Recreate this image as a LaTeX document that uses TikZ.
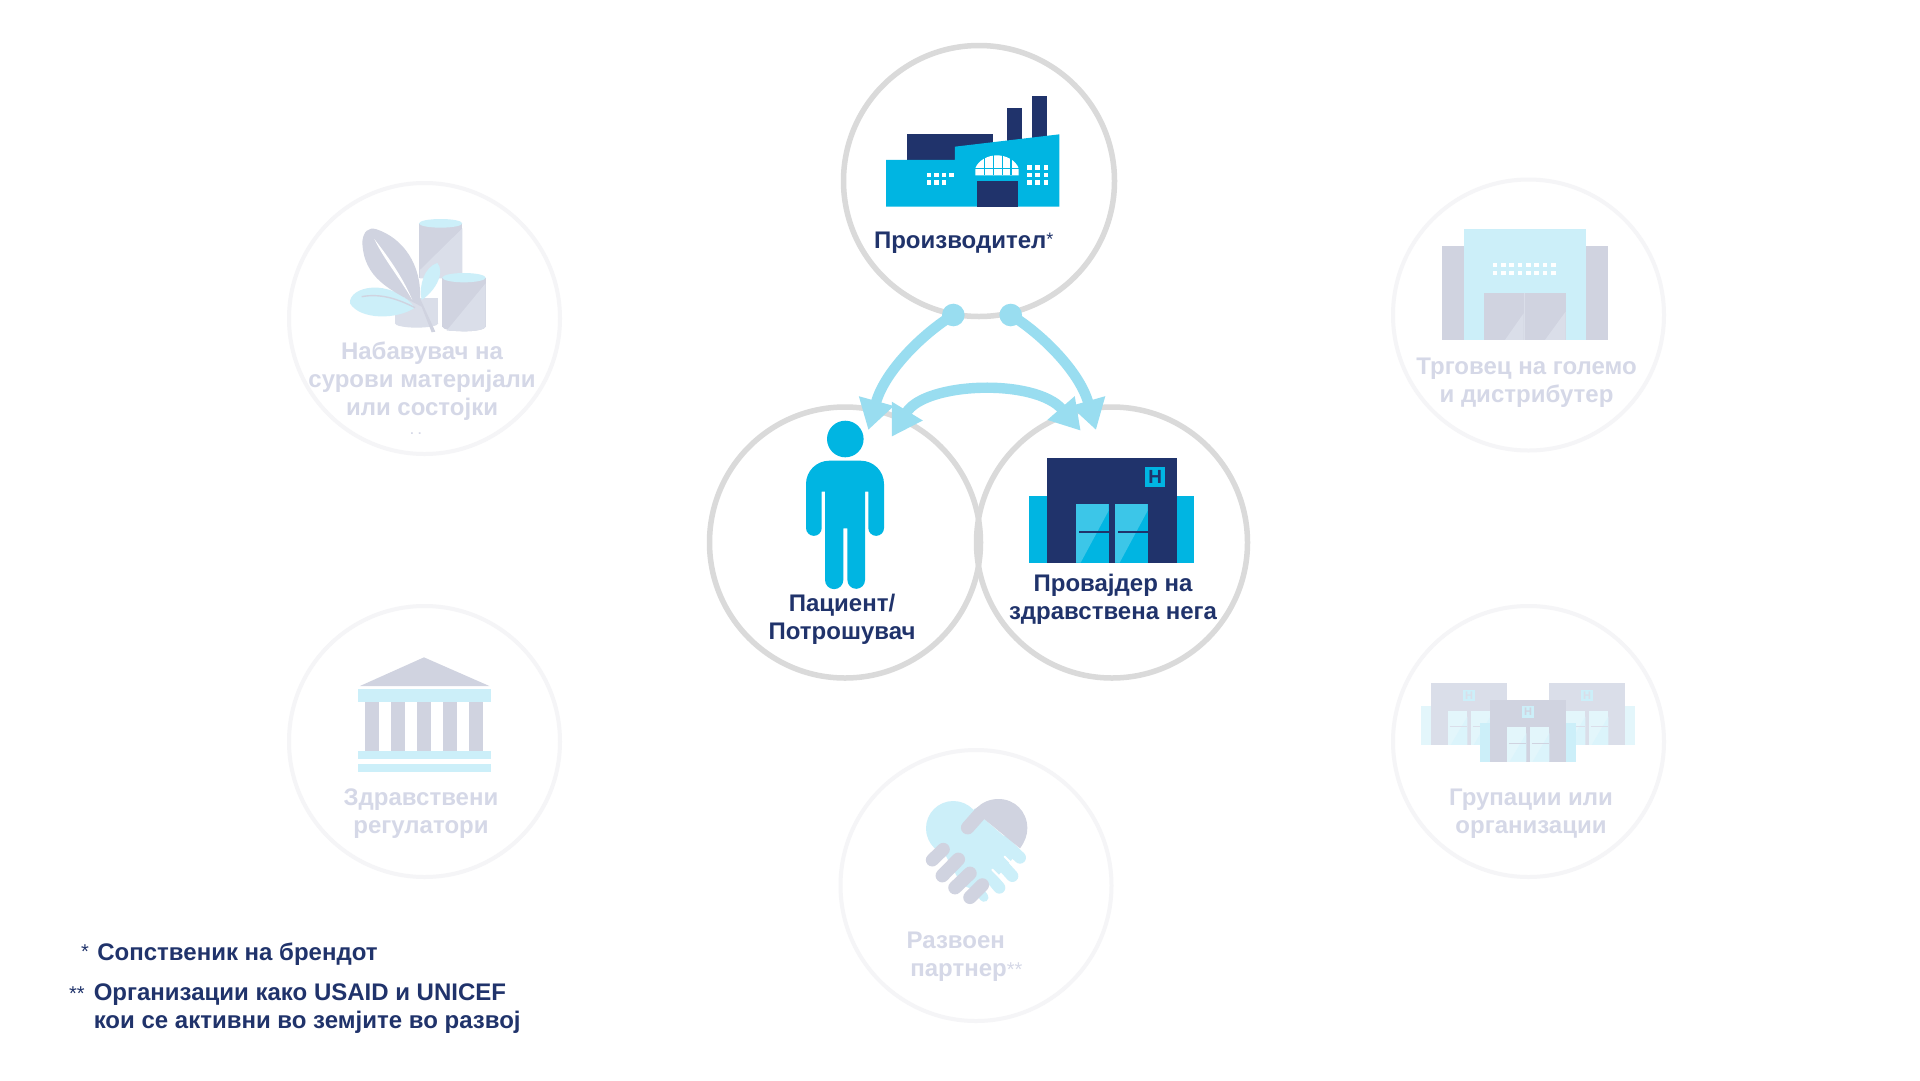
\documentclass[tikz,border=0pt]{standalone}
\usepackage{fontspec}
\setmainfont{Liberation Sans}
\usepackage{tikz}
\usetikzlibrary{arrows.meta,positioning}
\definecolor{navy}{HTML}{20336B}
\definecolor{skyblue}{HTML}{00B5E2}
\definecolor{skydoor}{HTML}{3CC6E8}
\definecolor{flowblue}{HTML}{99DDF0}
\definecolor{ringgrey}{HTML}{DADADA}
\definecolor{ringpale}{HTML}{F5F5F7}
\definecolor{palegrey}{HTML}{D0D3E0}
\definecolor{palegreyb}{HTML}{DADEE9}
\definecolor{palesky}{HTML}{CCEFF9}
\definecolor{palesel}{HTML}{E3F6FB}
\definecolor{paletext}{HTML}{D5D8E7}
\tikzset{
  ring/.style={circle, draw=ringgrey, line width=5.5pt, fill=white, minimum size=271pt, inner sep=0pt},
  ringfade/.style={circle, draw=ringpale, line width=4pt, minimum size=271pt, inner sep=0pt},
  lbl/.style={font=\bfseries\fontsize{24}{28}\selectfont, text=navy, align=center, anchor=base, inner sep=0pt},
  lblfade/.style={lbl, text=paletext},
  stars/.style={font=\mdseries\fontsize{20}{20}\selectfont, text=navy, anchor=base, inner sep=0pt},
  flowdot/.style={circle, fill=flowblue, minimum size=22.6pt, inner sep=0pt},
  flow/.style={line width=10.4pt, draw=flowblue},
  zoomed/.style={x=0.3333pt, y=-0.3333pt},
  signh/.style={font=\bfseries\fontsize{19}{19}\selectfont, inner sep=0pt},
}
\begin{document}
\begin{tikzpicture}[x=1pt, y=-1pt]
  \useasboundingbox (0,0) rectangle (1920,1080);
  \fill[white] (0,0) rectangle (1920,1080);

  % faded rings
  \node[ringfade] (supplier) at (424.5,318.5) {};
  \node[ringfade] (wholesaler) at (1528.5,315) {};
  \node[ringfade] (regulator) at (424.5,741.5) {};
  \node[ringfade] (groups) at (1528.5,741.5) {};
  \node[ringfade] (partner) at (976,885.5) {};

  % main rings
  \node[ring] (maker) at (979,181) {};
  \node[ring] (patient) at (845,542.5) {};
  \node[ring, fill=none] (provider) at (1112,542.5) {};

  % factory
  \begin{scope}[shift={(830,30)}, zoomed]
    \fill[navy] (230,313) rectangle (488,395);
    \fill[navy] (532,235) rectangle (577,340);
    \fill[navy] (605,198) rectangle (650,330);
    \fill[skyblue] (168,530) -- (168,390) -- (375,390) -- (375,350) -- (688,313) -- (688,530) -- cycle;
    \fill[navy] (442,452) rectangle (565,530);
    \fill[white] (436,436) -- (436,415) .. controls (445,390) and (475,376) .. (501,376)
      .. controls (527,376) and (557,390) .. (566,415) -- (566,436) -- cycle;
    \draw[skyblue, line width=1.6pt] (436,415) -- (566,415);
    \foreach \wx in {463,490,517,543}
      \draw[skyblue, line width=1.6pt] (\wx,370) -- (\wx,436);
    \foreach \wx in {296,320,343,365}
      \fill[white] (\wx-6.5,428) rectangle (\wx+6.5,442);
    \foreach \wx in {296,320,343}
      \fill[white] (\wx-6.5,451) rectangle (\wx+6.5,465);
    \foreach \wx in {599,622,648}
      \foreach \wy in {412,435,458}
        \fill[white] (\wx-7,\wy-7) rectangle (\wx+7,\wy+7);
  \end{scope}

  % person
  \node[circle, fill=skyblue, minimum size=36.6pt, inner sep=0pt] (head) at (845.3,439) {};
  \fill[skyblue] (806,484) arc[start angle=180, end angle=270, radius=23.3] -- (860.7,460.7)
    arc[start angle=270, end angle=360, radius=23.3]
    -- (884,528) arc[start angle=0, end angle=180, radius=7.85] -- (868.3,491.7) -- (865,491.7)
    -- (865,580) arc[start angle=0, end angle=180, radius=8.8] -- (847.3,528.3) -- (843.3,528.3)
    -- (843.3,580) arc[start angle=0, end angle=180, radius=9.15] -- (825,491.7) -- (821.7,491.7)
    -- (821.7,528) arc[start angle=0, end angle=180, radius=7.85] -- cycle;

  % hospital
  \begin{scope}[shift={(1000,440)}, zoomed]
    \fill[skyblue] (88,168) rectangle (582,368);
    \fill[navy] (141,53) rectangle (530,368);
    \foreach \dx in {228,345} {
      \fill[skyblue] (\dx,192) rectangle (\dx+98,368);
      \fill[skydoor] (\dx,192) -- (\dx+98,192) -- (\dx+98,212) -- (\dx+14,368) -- (\dx,368) -- cycle;
      \draw[navy, line width=2pt] (\dx+10,276) -- (\dx+98,276);
    }
    \fill[skyblue] (436,82) rectangle (496,141);
    \node[signh, text=navy] (hsign) at (466,112) {H};
  \end{scope}

  % raw materials
  \begin{scope}[shift={(280,175)}, zoomed]
    \fill[palegrey] (417,145) rectangle (547,310);
    \fill[palegreyb] (547,160) -- (547,310) -- (420,310) -- (420,285) -- cycle;
    \fill[palesky] (482,145) ellipse [x radius=65, y radius=13];
    \fill[palegreyb] (345,370) rectangle (475,445);
    \fill[palegreyb] (410,445) ellipse [x radius=65, y radius=13];
    \fill[palegrey] (487,308) rectangle (617,455);
    \fill[palegrey] (552,455) ellipse [x radius=65, y radius=14];
    \fill[palegreyb] (617,325) -- (617,455) arc[start angle=0, end angle=-90, x radius=65, y radius=-14] -- (500,467) -- cycle;
    \fill[palesky] (552,308) ellipse [x radius=65, y radius=14];
    % leaves
    \fill[palesky] (405,398) .. controls (350,435) and (240,435) .. (210,385)
      .. controls (205,335) and (330,305) .. (405,398) -- cycle;
    \fill[palesky] (425,375) .. controls (415,330) and (435,275) .. (472,264)
      .. controls (495,290) and (470,345) .. (425,375) -- cycle;
    \fill[palegrey] (425,395) .. controls (330,345) and (250,310) .. (247,200)
      .. controls (250,170) and (265,155) .. (290,163)
      .. controls (370,190) and (425,270) .. (420,370) -- (466,470) -- (455,472) -- cycle;
    \fill[white] (283,192) .. controls (320,240) and (365,300) .. (397,375)
      .. controls (360,310) and (310,250) .. (283,192) -- cycle;
    \draw[palegrey, line width=1.4pt] (245,365) .. controls (300,355) and (350,370) .. (405,398);
  \end{scope}

  % warehouse
  \begin{scope}[shift={(1390,175)}, zoomed]
    \fill[palegrey] (155,212) rectangle (654,495);
    \fill[palesky] (221,163) rectangle (588,495);
    \fill[palegrey] (282,355) rectangle (527,495);
    \fill[palegreyb] (345,495) -- (401,415) -- (401,495) -- cycle;
    \fill[palegreyb] (465,495) -- (527,410) -- (527,495) -- cycle;
    \draw[palegreyb, line width=0.8pt] (403,355) -- (403,495);
    \foreach \wx in {315,340,...,490}
      \foreach \wy in {270,294}
        \fill[white] (\wx-7,\wy-6.5) rectangle (\wx+7,\wy+6.5);
  \end{scope}

  % regulator building
  \begin{scope}[shift={(280,600)}, zoomed]
    \fill[palegrey] (240,258) -- (432,172) -- (628,258) -- cycle;
    \fill[palesky] (234,268) rectangle (632,307);
    \foreach \cx in {256,334,412,490,568}
      \fill[palegrey] (\cx,307) rectangle (\cx+42,453);
    \fill[palesky] (234,453) rectangle (632,477);
    \fill[palesky] (234,492) rectangle (632,516);
  \end{scope}

  % hospital group
  \begin{scope}[shift={(1390,600)}, zoomed]
    \foreach \bx/\by/\bwall/\bwing in {123/250/palegreyb/palesel, 477/250/palegreyb/palesel, 300/300/palegrey/palesky} {
      \fill[\bwing] (\bx-30,\by+68) rectangle (\bx+259,\by+185);
      \fill[\bwall] (\bx,\by) rectangle (\bx+229,\by+185);
      \foreach \dx in {51,120} {
        \fill[palesel] (\bx+\dx,\by+82) rectangle (\bx+\dx+58,\by+185);
        \fill[palesky!70!white] (\bx+\dx+8,\by+185) -- (\bx+\dx+58,\by+100) -- (\bx+\dx+58,\by+185) -- cycle;
        \draw[\bwall, line width=1pt] (\bx+\dx+5,\by+131) -- (\bx+\dx+58,\by+131);
      }
      \fill[palesky] (\bx+97,\by+19) rectangle (\bx+131,\by+53);
      \node[font=\bfseries\fontsize{11}{11}\selectfont, text=\bwall, inner sep=0pt] (hsign\bx) at (\bx+114,\by+36) {H};
    }
  \end{scope}

  % handshake
  \begin{scope}[shift={(835,745)}, zoomed]
    \fill[palesky] (355,250) circle (82);
    \fill[palesky] (315,300) -- (420,190) -- (445,220) -- (555,315) -- (500,380) -- (445,440) -- (430,440) -- (380,420) -- cycle;
    \draw[palesky, line width=12pt, line cap=round] (505,290) -- (555,338);
    \draw[palesky, line width=12pt, line cap=round] (475,330) -- (532,393);
    \draw[palesky, line width=12pt, line cap=round] (445,370) -- (493,428);
    \draw[palesky, line width=9pt, line cap=round] (420,420) -- (447,457);
    \draw[white, line width=2pt, line cap=round] (509,335) -- (552,377);
    \draw[white, line width=2pt, line cap=round] (472,374) -- (510,412);
    \fill[palegrey] (398,248) -- (445,220) -- (555,310) .. controls (570,290) and (577,270) .. (577,250)
      .. controls (577,200) and (540,162) .. (490,162) .. controls (465,162) and (440,172) .. (425,190) -- cycle;
    \draw[palegrey, line width=13.5pt, line cap=round] (398,248) -- (436,205);
    \draw[palegrey, line width=13pt, line cap=round] (292,345) -- (325,313);
    \draw[palegrey, line width=13.5pt, line cap=round] (322,392) -- (370,343);
    \draw[palegrey, line width=13.5pt, line cap=round] (360,428) -- (405,385);
    \draw[palegrey, line width=13.5pt, line cap=round] (405,457) -- (442,420);
  \end{scope}

  % arrows
  \node[flowdot] (dotl) at (953.3,315) {};
  \node[flowdot] (dotr) at (1010.7,315) {};
  \coordinate (tipa) at (868.3,430);
  \coordinate (tipb) at (1096,430);
  \coordinate (tipc) at (891.7,436.7);
  \coordinate (tipd) at (1080.7,430.7);
  \draw[flow, -{Triangle[length=30pt,width=34pt]}] (dotl.center) .. controls (925,332) and (885,370) .. (tipa);
  \draw[flow, -{Triangle[length=30pt,width=34pt]}] (dotr.center) .. controls (1039,332) and (1079,370) .. (tipb);
  \draw[flow, {Triangle[length=30pt,width=34pt]}-{Triangle[length=30pt,width=34pt]}] (tipc) .. controls (925,382) and (1035,378) .. (tipd);

  % labels
  \node[lbl] (makerlbl) at (963.7,248.3) {Производител{\mdseries\fontsize{18}{18}\selectfont\raisebox{2.7pt}{*}}};
  \node[lbl] (patientlbl) at (842,639.3) {Пациент/\\Потрошувач};
  \node[lbl] (providerlbl) at (1113,619.5) {Провајдер на\\здравствена нега};
  \node[lblfade] (supplierlbl) at (422,415.3) {Набавувач на\\сурови материјали\\или состојки};
  \node[lblfade, font=\bfseries\fontsize{12}{12}\selectfont] (supplierdots) at (416,434) {. .};
  \node[lblfade] (wholesalerlbl) at (1526.5,402.7) {Трговец на големо\\и дистрибутер};
  \node[lblfade] (regulatorlbl) at (421,833.3) {Здравствени\\регулатори};
  \node[lblfade] (groupslbl) at (1531,833) {Групации или\\организации};
  \node[lblfade, align=left, anchor=base west] (partnerlbl) at (906.5,976.7) {Развоен\\\hspace*{3.7pt}партнер{\mdseries\fontsize{20}{20}\selectfont *{}*}};

  % footnotes
  \node[stars] (starone) at (85,958) {*};
  \node[lbl, anchor=base west] (noteone) at (97.2,960) {Сопственик на брендот};
  \node[stars] (startwo) at (77,1000) {**};
  \node[lbl, anchor=base west, align=left] (notetwo) at (93.6,1028) {Организации како USAID и UNICEF\\кои се активни во земјите во развој};
\end{tikzpicture}
\end{document}
